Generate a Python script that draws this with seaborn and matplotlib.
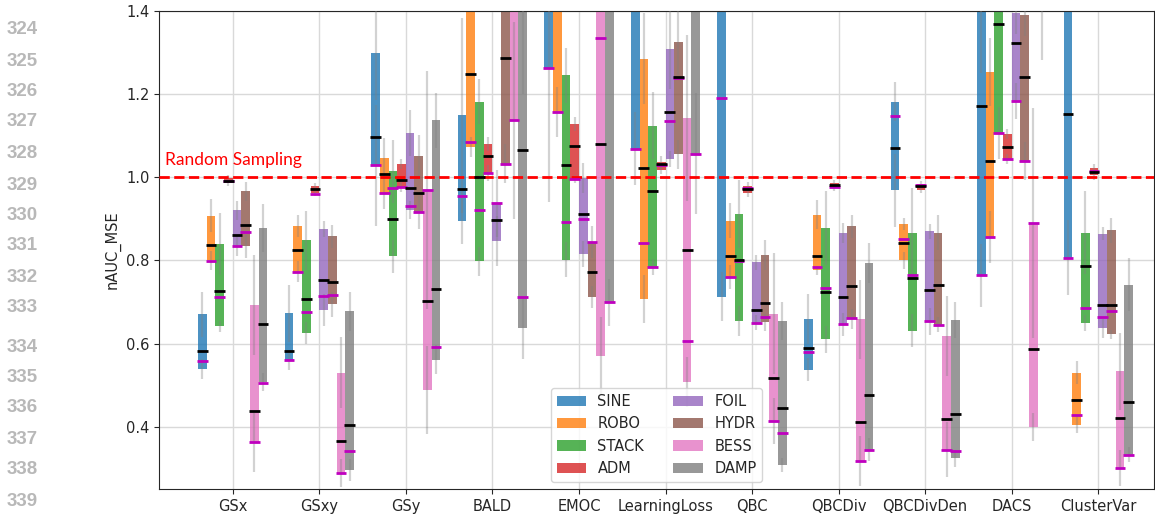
import matplotlib
matplotlib.use('Agg')
import matplotlib.pyplot as plt
import numpy as np
import seaborn as sns

methods = ['GSx', 'GSxy', 'GSy', 'BALD', 'EMOC', 'LearningLoss', 'QBC',
           'QBCDiv', 'QBCDivDen', 'DACS', 'ClusterVar']
datasets = ['SINE', 'ROBO', 'STACK', 'ADM', 'FOIL', 'HYDR', 'BESS', 'DAMP']

# lower / upper edge of each floating bar
bar_low = {
    'SINE':  [0.539, 0.561, 1.029, 0.895, 1.263, 1.069, 0.713, 0.537, 0.969, 0.764, 0.806],
    'ROBO':  [0.800, 0.773, 0.962, 1.073, 1.157, 0.707, 0.760, 0.776, 0.800, 0.856, 0.405],
    'STACK': [0.641, 0.625, 0.810, 0.798, 0.802, 0.784, 0.655, 0.610, 0.631, 1.107, 0.649],
    'ADM':   [0.986, 0.962, 0.977, 1.010, 0.996, 1.017, 0.961, 0.973, 0.970, 1.043, 1.006],
    'FOIL':  [0.834, 0.681, 0.922, 0.847, 0.815, 1.044, 0.650, 0.646, 0.653, 1.184, 0.637],
    'HYDR':  [0.834, 0.694, 0.916, 1.033, 0.712, 1.055, 0.651, 0.659, 0.645, 1.039, 0.622],
    'BESS':  [0.362, 0.289, 0.488, 1.137, 0.571, 0.507, 0.414, 0.318, 0.345, 0.400, 0.300],
    'DAMP':  [0.507, 0.296, 0.561, 0.638, 0.699, 1.057, 0.308, 0.345, 0.324, 1.460, 0.333],
}
bar_high = {
    'SINE':  [0.670, 0.673, 1.300, 1.149, 1.700, 1.600, 1.650, 0.659, 1.182, 1.600, 1.550],
    'ROBO':  [0.908, 0.883, 1.046, 1.500, 1.600, 1.285, 0.895, 0.910, 0.887, 1.254, 0.530],
    'STACK': [0.840, 0.848, 1.014, 1.182, 1.245, 1.124, 0.911, 0.878, 0.867, 1.550, 0.867],
    'ADM':   [0.999, 0.978, 1.031, 1.081, 1.128, 1.036, 0.978, 0.987, 0.983, 1.105, 1.023],
    'FOIL':  [0.921, 0.876, 1.107, 0.937, 0.998, 1.308, 0.795, 0.866, 0.870, 1.394, 0.864],
    'HYDR':  [0.966, 0.858, 1.051, 1.550, 0.844, 1.325, 0.814, 0.882, 0.867, 1.390, 0.872],
    'BESS':  [0.692, 0.530, 0.970, 1.600, 1.700, 1.143, 0.672, 0.658, 0.618, 0.890, 0.533],
    'DAMP':  [0.878, 0.678, 1.137, 1.500, 1.600, 1.600, 0.655, 0.794, 0.657, 1.700, 0.742],
}
# spread around the lower / upper edge
err_low = {
    'SINE':  [0.024, 0.024, 0.146, 0.055, 0.323, 0.088, 0.059, 0.027, 0.088, 0.075, 0.090],
    'ROBO':  [0.022, 0.026, 0.038, 0.024, 0.059, 0.058, 0.028, 0.010, 0.020, 0.063, 0.020],
    'STACK': [0.014, 0.026, 0.040, 0.035, 0.043, 0.020, 0.036, 0.033, 0.040, 0.062, 0.020],
    'ADM':   [0.006, 0.006, 0.012, 0.020, 0.010, 0.008, 0.008, 0.006, 0.008, 0.012, 0.012],
    'FOIL':  [0.024, 0.038, 0.022, 0.061, 0.031, 0.019, 0.018, 0.027, 0.032, 0.043, 0.023],
    'HYDR':  [0.028, 0.031, 0.040, 0.048, 0.026, 0.034, 0.020, 0.024, 0.018, 0.045, 0.010],
    'BESS':  [0.070, 0.033, 0.106, 0.237, 0.092, 0.060, 0.056, 0.060, 0.067, 0.034, 0.043],
    'DAMP':  [0.022, 0.027, 0.035, 0.075, 0.057, 0.145, 0.016, 0.027, 0.020, 0.177, 0.018],
}
err_high = {
    'SINE':  [0.054, 0.069, 0.114, 0.235, 0.100, 0.100, 0.100, 0.059, 0.046, 0.350, 0.100],
    'ROBO':  [0.040, 0.026, 0.049, 0.050, 0.100, 0.109, 0.042, 0.035, 0.014, 0.082, 0.027],
    'STACK': [0.075, 0.070, 0.075, 0.055, 0.067, 0.080, 0.082, 0.088, 0.108, 0.100, 0.100],
    'ADM':   [0.006, 0.007, 0.012, 0.017, 0.016, 0.016, 0.010, 0.006, 0.008, 0.012, 0.010],
    'FOIL':  [0.023, 0.019, 0.055, 0.080, 0.037, 0.095, 0.017, 0.024, 0.018, 0.050, 0.016],
    'HYDR':  [0.022, 0.027, 0.051, 0.100, 0.039, 0.080, 0.036, 0.027, 0.042, 0.050, 0.031],
    'BESS':  [0.120, 0.085, 0.286, 0.100, 0.100, 0.200, 0.145, 0.096, 0.096, 0.277, 0.092],
    'DAMP':  [0.057, 0.047, 0.066, 0.300, 0.100, 0.100, 0.046, 0.049, 0.044, 0.100, 0.063],
}
median = {
    'SINE':  [0.581, 0.581, 1.096, 0.971, 1.500, 1.450, 1.450, 0.589, 1.071, 1.172, 1.153],
    'ROBO':  [0.836, 0.824, 1.008, 1.249, 1.500, 1.022, 0.810, 0.810, 0.842, 1.040, 0.463],
    'STACK': [0.727, 0.706, 0.900, 1.000, 1.030, 0.967, 0.800, 0.723, 0.758, 1.369, 0.786],
    'ADM':   [0.992, 0.971, 0.994, 1.051, 1.076, 1.031, 0.972, 0.982, 0.980, 1.073, 1.013],
    'FOIL':  [0.860, 0.753, 0.973, 0.896, 0.912, 1.158, 0.681, 0.713, 0.728, 1.323, 0.692],
    'HYDR':  [0.884, 0.749, 0.963, 1.288, 0.771, 1.242, 0.697, 0.738, 0.742, 1.242, 0.692],
    'BESS':  [0.438, 0.365, 0.702, 1.450, 1.080, 0.826, 0.516, 0.412, 0.418, 0.587, 0.421],
    'DAMP':  [0.647, 0.404, 0.730, 1.065, 1.500, 1.500, 0.446, 0.477, 0.430, 1.550, 0.460],
}
mean = {
    'SINE':  [0.557, 0.560, 1.029, 0.954, 1.263, 1.069, 1.190, 0.579, 1.148, 0.764, 0.806],
    'ROBO':  [0.799, 0.773, 0.962, 1.084, 1.157, 0.841, 0.760, 0.784, 0.851, 0.856, 0.428],
    'STACK': [0.713, 0.676, 0.973, 0.922, 0.892, 0.784, 0.799, 0.733, 0.764, 1.107, 0.685],
    'ADM':   [0.990, 0.960, 0.977, 1.010, 0.996, 1.029, 0.975, 0.976, 0.981, 1.043, 1.015],
    'FOIL':  [0.834, 0.715, 0.930, 0.937, 0.899, 1.135, 0.650, 0.646, 0.653, 1.184, 0.663],
    'HYDR':  [0.868, 0.716, 0.916, 1.033, 0.844, 1.238, 0.665, 0.662, 0.645, 1.039, 0.678],
    'BESS':  [0.362, 0.289, 0.970, 1.137, 1.336, 0.607, 0.414, 0.318, 0.345, 0.890, 0.300],
    'DAMP':  [0.506, 0.341, 0.591, 0.713, 0.699, 1.057, 0.385, 0.345, 0.341, 1.460, 0.333],
}
baseline = 1.0
line_numbers = list(range(324, 340))

sns.set_style('ticks')
plt.rcParams.update({'font.size': 10.5, 'lines.solid_capstyle': 'butt'})
plt.rcParams['font.family'] = ['DejaVu Sans']
palette = sns.color_palette('tab10', len(datasets))

fig, ax = plt.subplots(figsize=(11.55, 5.16), dpi=100)
fig.subplots_adjust(left=0.1377, right=0.9991, top=0.9787, bottom=0.0523)

x = np.arange(len(methods))
width = 0.1
for j, name in enumerate(datasets):
    pos = x + (j - 3.5) * width
    lo = np.array(bar_low[name])
    hi = np.array(bar_high[name])
    el = np.array(err_low[name])
    eh = np.array(err_high[name])
    ax.bar(pos, hi - lo, width, bottom=lo, color=palette[j], alpha=0.8,
           linewidth=0, zorder=2, label=name)
    ax.vlines(pos, lo - el, lo + el, color='gray', alpha=0.35, lw=1.6, zorder=3)
    ax.vlines(pos, hi - eh, hi + eh, color='gray', alpha=0.35, lw=1.6, zorder=3)
    ax.hlines(mean[name], pos - 0.062, pos + 0.062, color='m', lw=2, zorder=5)
    ax.hlines(median[name], pos - 0.062, pos + 0.062, color='k', lw=2, zorder=6)

ax.axhline(baseline, color='red', ls='--', lw=2, zorder=4)
ax.text(-0.782, 1.029, 'Random Sampling', color='red', fontsize=12.5,
        family='Lato', va='baseline', ha='left')

ax.set_xticks(x)
ax.set_xticklabels(methods, fontsize=10.5)
ax.set_yticks([0.4, 0.6, 0.8, 1.0, 1.2, 1.4])
ax.tick_params(axis='y', labelsize=10.5)
ax.set_xlim(-0.851, 10.643)
ax.set_ylim(0.25, 1.4)
ax.set_ylabel('nAUC_MSE', fontsize=10.5)
ax.grid(True, color='#d9d9d9', lw=1)
ax.set_axisbelow(True)
for side in ['top', 'right']:
    ax.spines[side].set_visible(True)

ax.legend(loc='lower center', ncol=2, fontsize=10.5, frameon=True,
          framealpha=0.8, columnspacing=2.0)

# line numbers of the surrounding document
ys = [29.7, 61, 91, 122, 154, 185, 215, 246, 277, 308, 347, 378, 408, 439, 470, 502]
for num, yp in zip(line_numbers, ys):
    fig.text(7 / 1155, 1 - yp / 516, str(num), color='#b8b8b8', fontsize=13.5,
             family='Liberation Sans', fontweight='bold', va='center', ha='left')

fig.savefig('out.png', dpi=100)
